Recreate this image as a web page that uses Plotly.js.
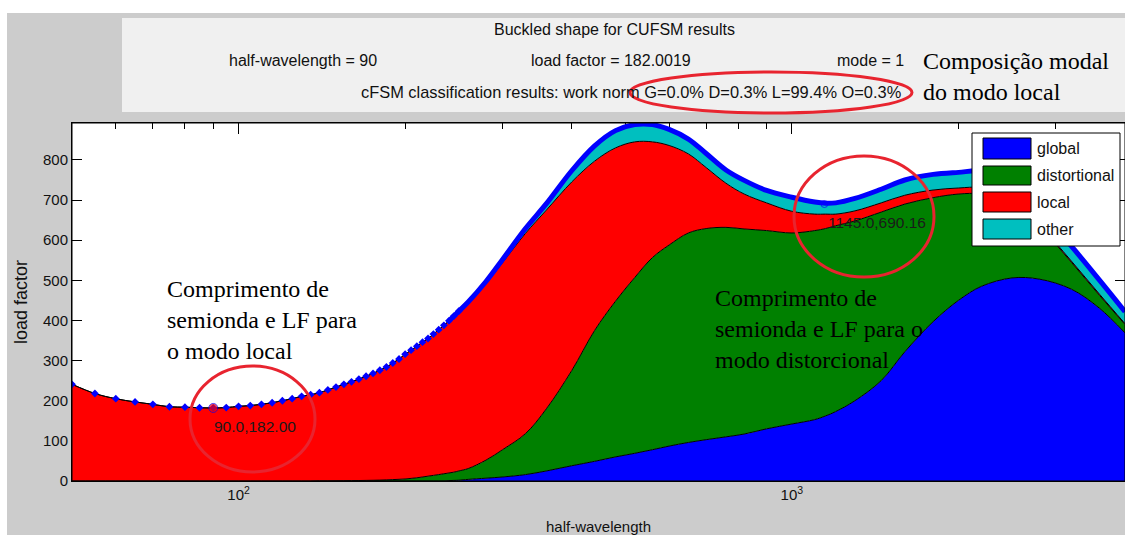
<!DOCTYPE html>
<html><head><meta charset="utf-8">
<script src="https://cdn.plot.ly/plotly-3.0.1.min.js"></script>
<style>html,body{margin:0;padding:0;background:#fff;}#chart{width:1125px;height:535px;}</style>
</head><body><div id="chart"></div>
<script>
// ---------- data ----------
const halfWavelength = [50,55,60,65,70,75,80,85,90,95,100,105,110,115,120,125,130,135,140,145,150,155,160,165,170,175,180,185,190,195,200,205,210,215,220,225,230,235,240,245,250,
  260,280,300,330,360,400,440,480,520,560,600,650,700,760,820,900,1000,1100,1150,1200,1300,1450,1600,1800,2000,2200,2500,2800,3200,3600,4000];
const globalLF = [0,0,0,0,0,0,0,0,0,0,0,0,0,0,0,0,0,0,0,0,0,0,0,0,0,0,0,0,0,0,0,0,0,0,0,0,0,0,1,1.5,2,
  4,7,10,16,25,38,49,60,69,78,87,96,103,110,117,130,142,153,162,173,200,250,322,397,450,485,506,503,478,430,369];
const distortionalLF = [0,0,0,0,0,0,0,0,0,0,0,0,0,0,0,0,0,0,0.5,0.5,0.7,0.8,1,1.2,1.5,1.8,2.2,2.8,3.5,4.2,5,6.5,8,10,12,14,16,18,19,20.5,23,
  27,45,68,102,155,237,326,388,438,479,501,522,526,522,511,494,476,471,467,463,448,420,368,309,265,231,197,133,67,32,21];
const localLF = [241,218,205,197,191,185,184,182.5,182,183,186,188,191,195,200,205,211,215,219.5,226.5,233.3,240.2,246,252.8,259.5,266.2,273.8,281.2,290.5,299.8,311,319.5,328,336,343,352,361,370,379,389,398,
  413,440,466,499,495,470,422,382,338,288,248,197,152,110,87,69,54,41,36,29,25,23,22,19,15,15,5,4,3,3,2];
const otherLF = [0,0,0,0,0,0,0,0,0,0,0,0,0,0,0,0,0,0,0,0,0,0,0,0,0,0,0,0,0,0,0,0,0,0,0,0,0,0,0,0,0,
  2,5,8,12,16,28,38,43,43,43,40,37,35,33,34,31,35,30,27,28,31,34,38,39,39,41,37,35,37,35,30];
const seriesNames = ['global','distortional','local','other'];
const tipX = [90, 1145];
const tipY = [182.00, 690.16];
const xTickVals = [100, 1000];
const xTickText = ['10<sup>2</sup>', '10<sup>3</sup>'];
const xMinorVals = [60,70,80,90,200,300,400,500,600,700,800,900,2000,3000,4000];
const yTickVals = [0,100,200,300,400,500,600,700,800];
const headerTitle = 'Buckled shape for CUFSM results';
const headerItems = ['half-wavelength = 90', 'load factor = 182.0019', 'mode = 1'];
const headerClass = 'cFSM classification results: work norm G=0.0% D=0.3% L=99.4% O=0.3%';
const noteModal = 'Composição modal<br>do modo local';
const noteLocal = 'Comprimento de<br>semionda e LF para<br>o modo local';
const noteDist = 'Comprimento de<br>semionda e LF para o<br>modo distorcional';
const xTitle = 'half-wavelength';
const yTitle = 'load factor';

// ---------- styles ----------
const colors = ['#0000ff', '#008000', '#ff0000', '#00bfbf'];
const SANS = '"Liberation Sans", Arial, sans-serif';
const SERIF = '"Liberation Serif", "Times New Roman", serif';
const ML = 72, MT = 123, PW = 1053, PH = 358;
const PX = p => (p - ML) / PW;
const PY = p => (MT + PH - p) / PH;
const xRange = [Math.log10(50), Math.log10(4000)];

const layers = [globalLF, distortionalLF, localLF, otherLF];
const traces = layers.map((vals, i) => ({
  x: halfWavelength, y: vals, type: 'scatter', mode: 'lines', stackgroup: 'one',
  name: seriesNames[i], fillcolor: colors[i],
  line: {color: '#000', width: 1, shape: 'spline', smoothing: 1},
  hoverinfo: 'skip', showlegend: false
}));

const total = halfWavelength.map((_, i) => globalLF[i] + distortionalLF[i] + localLF[i] + otherLF[i]);
const mX = [], mY = [], bX = [], bY = [];
halfWavelength.forEach((x, i) => {
  if (x <= 250) { mX.push(x); mY.push(total[i]); }
  if (x >= 240) { bX.push(x); bY.push(total[i]); }
});
traces.push({x: bX, y: bY, type: 'scatter', mode: 'lines', line: {color: '#0000ff', width: 5, shape: 'spline', smoothing: 1}, hoverinfo: 'skip', showlegend: false});
traces.push({x: mX, y: mY, type: 'scatter', mode: 'markers', marker: {symbol: 'diamond', size: 6, color: '#0000ff'}, hoverinfo: 'skip', showlegend: false});
traces.push({x: tipX, y: tipY, type: 'scatter', mode: 'markers',
  marker: {symbol: ['circle', 'circle-open'], size: [9, 7], color: ['#ff0000', '#0000ff'], line: {color: '#0000ff', width: 1}},
  hoverinfo: 'skip', showlegend: false});
// carrier for the top (minor tick) axis
traces.push({x: [100], y: [null], xaxis: 'x2', yaxis: 'y', type: 'scatter', mode: 'markers', hoverinfo: 'skip', showlegend: false});

const shapes = [
  {type: 'rect', xref: 'paper', yref: 'paper', x0: PX(0), x1: PX(7), y0: PY(535), y1: PY(0), fillcolor: '#ffffff', line: {width: 0}},
  {type: 'rect', xref: 'paper', yref: 'paper', x0: PX(0), x1: PX(1125), y0: PY(13), y1: PY(0), fillcolor: '#ffffff', line: {width: 0}},
  {type: 'rect', xref: 'paper', yref: 'paper', x0: PX(122), x1: PX(1125), y0: PY(112), y1: PY(18), fillcolor: '#f0f0f0', line: {width: 0}},
  {type: 'rect', xref: 'paper', yref: 'paper', x0: 0, x1: 1, y0: 0, y1: 1, line: {color: '#000', width: 1}},
  {type: 'circle', xref: 'paper', yref: 'paper', x0: PX(190), x1: PX(315), y0: PY(472), y1: PY(366), line: {color: '#e8242f', width: 3}},
  {type: 'circle', xref: 'paper', yref: 'paper', x0: PX(794), x1: PX(934), y0: PY(277), y1: PY(156), line: {color: '#e8242f', width: 3}},
  {type: 'circle', xref: 'paper', yref: 'paper', x0: PX(630), x1: PX(912), y0: PY(113), y1: PY(72), line: {color: '#e8242f', width: 3}},
  {type: 'rect', xref: 'paper', yref: 'paper', x0: PX(972), x1: PX(1120), y0: PY(246), y1: PY(133), fillcolor: '#ffffff', line: {color: '#000', width: 1}}
];
const legRows = [[138, 159], [166, 185], [192, 212], [219, 239]];
legRows.forEach((r, i) => shapes.push({type: 'rect', xref: 'paper', yref: 'paper', x0: PX(983), x1: PX(1031), y0: PY(r[1]), y1: PY(r[0]), fillcolor: colors[i], line: {color: '#000', width: 1}}));

const sansFont = s => ({family: SANS, size: s, color: '#111'});
const ann = (text, px, py, xa, font) => ({text, xref: 'paper', yref: 'paper', x: PX(px), y: PY(py), xanchor: xa, yanchor: 'middle', showarrow: false, font});
const annotations = [
  ann(headerTitle, 614, 30, 'center', sansFont(16)),
  ann(headerItems[0], 303, 60, 'center', sansFont(16)),
  ann(headerItems[1], 611, 60, 'center', sansFont(16)),
  ann(headerItems[2], 870, 60, 'center', sansFont(16)),
  ann(headerClass, 631, 92, 'center', sansFont(16.4)),
  Object.assign(ann(noteModal, 921, 77, 'left', {family: SERIF, size: 24, color: '#000'}), {align: 'left'}),
  Object.assign(ann(noteLocal, 165, 320, 'left', {family: SERIF, size: 24, color: '#000'}), {align: 'left'}),
  Object.assign(ann(noteDist, 713, 329, 'left', {family: SERIF, size: 24, color: '#000'}), {align: 'left'})
];
tipX.forEach((x, i) => annotations.push({
  text: x.toFixed(1) + ',' + tipY[i].toFixed(2), xref: 'x', yref: 'y', x: Math.log10(x), y: tipY[i],
  xanchor: 'left', yanchor: 'middle', xshift: i === 0 ? -1 : 2, yshift: i === 0 ? -19 : -18,
  showarrow: false, font: {family: SANS, size: 15.5, color: '#1a1a1a'}
}));
legRows.forEach((r, i) => annotations.push(ann(seriesNames[i], 1035, (r[0] + r[1]) / 2, 'left', sansFont(16))));

const layout = {
  width: 1125, height: 535,
  margin: {l: ML, r: 0, t: MT, b: 535 - MT - PH, pad: 0},
  paper_bgcolor: '#cccccc', plot_bgcolor: '#ffffff',
  showlegend: false,
  xaxis: {
    type: 'log', range: xRange,
    tickmode: 'array', tickvals: xTickVals, ticktext: xTickText,
    ticks: 'inside', ticklen: 11, tickcolor: '#000', tickwidth: 1,
    showline: true, linecolor: '#000', linewidth: 1, mirror: 'ticks',
    showgrid: false, zeroline: false, layer: 'below traces',
    tickfont: {family: SANS, size: 15, color: '#111'},
    title: {text: xTitle, font: {family: SANS, size: 15, color: '#111'}, standoff: 20}
  },
  xaxis2: {
    type: 'log', range: xRange, overlaying: 'x', side: 'top', anchor: 'y',
    tickmode: 'array', tickvals: xMinorVals, showticklabels: false,
    ticks: 'inside', ticklen: 6, tickcolor: '#000', tickwidth: 1,
    showline: false, showgrid: false, zeroline: false, layer: 'below traces'
  },
  yaxis: {
    range: [0, 892], tickmode: 'array', tickvals: yTickVals,
    ticks: 'inside', ticklen: 10, tickcolor: '#000', tickwidth: 1,
    showline: true, linecolor: '#000', linewidth: 1, mirror: 'ticks',
    showgrid: false, zeroline: false, layer: 'below traces',
    tickfont: {family: SANS, size: 15, color: '#111'},
    title: {text: yTitle, font: {family: SANS, size: 18, color: '#111'}, standoff: 10}
  },
  shapes, annotations
};
Plotly.newPlot('chart', traces, layout, {staticPlot: true, displayModeBar: false});
</script></body></html>
